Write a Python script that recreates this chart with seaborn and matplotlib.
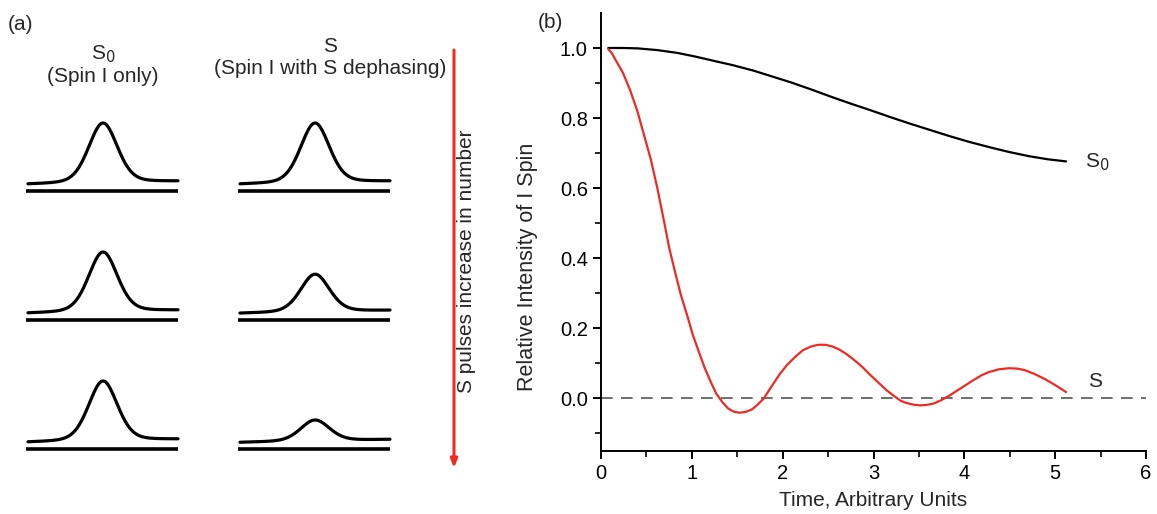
import numpy as np
import pandas as pd
import matplotlib
matplotlib.use("Agg")
import matplotlib.pyplot as plt
import seaborn as sns

sns.set_style("ticks")
plt.rcParams['font.family'] = ['Liberation Sans', 'DejaVu Sans']

# ---- panel (b) data ----
time_s0 = [0.08, 0.25, 0.40, 0.62, 0.84, 1.03, 1.23, 1.45, 1.67, 1.88, 2.10, 2.32,
           2.53, 2.75, 2.97, 3.18, 3.40, 3.62, 3.84, 4.05, 4.27, 4.49, 4.71, 4.92, 5.12]
intensity_s0 = [1.0, 1.0, 0.999, 0.994, 0.986, 0.976, 0.964, 0.951, 0.936, 0.919,
                0.901, 0.881, 0.861, 0.841, 0.822, 0.803, 0.784, 0.766, 0.748, 0.732,
                0.717, 0.703, 0.691, 0.682, 0.676]

time_s = [0.08, 0.12, 0.16, 0.24, 0.32, 0.40, 0.47, 0.55, 0.62, 0.69, 0.75, 0.82,
          0.88, 0.95, 1.01, 1.08, 1.14, 1.21, 1.27, 1.34, 1.40, 1.46, 1.52, 1.59,
          1.66, 1.72, 1.79, 1.88, 1.97, 2.05, 2.14, 2.22, 2.31, 2.39, 2.47, 2.55,
          2.62, 2.70, 2.79, 2.88, 2.96, 3.05, 3.14, 3.23, 3.30, 3.36, 3.44, 3.51,
          3.58, 3.66, 3.74, 3.83, 3.92, 4.01, 4.10, 4.19, 4.27, 4.38, 4.49, 4.58,
          4.66, 4.77, 4.88, 5.00, 5.12]
intensity_s = [0.997, 0.985, 0.966, 0.93, 0.88, 0.82, 0.755, 0.68, 0.60, 0.51, 0.43,
               0.355, 0.294, 0.235, 0.181, 0.13, 0.087, 0.045, 0.012, -0.013, -0.030,
               -0.039, -0.042, -0.040, -0.033, -0.020, -0.002, 0.034, 0.069, 0.095,
               0.118, 0.136, 0.147, 0.152, 0.152, 0.147, 0.139, 0.126, 0.108, 0.088,
               0.067, 0.045, 0.023, 0.005, -0.008, -0.014, -0.019, -0.021, -0.020,
               -0.016, -0.007, 0.006, 0.021, 0.036, 0.051, 0.065, 0.074, 0.082, 0.085,
               0.084, 0.080, 0.069, 0.055, 0.037, 0.017]

x_ticks = [0, 1, 2, 3, 4, 5, 6]
y_ticks = [0.0, 0.2, 0.4, 0.6, 0.8, 1.0]

# ---- panel (a) data: relative peak heights, rows = more S pulses ----
peak_height_s0 = [1.0, 1.0, 1.0]
peak_height_s = [1.0, 0.63, 0.35]

RED = "#ee2a24"

fig = plt.figure(figsize=(11.57, 5.14), dpi=100)

# ---------------- panel (a): schematic spectra, pixel-like coordinates ----------------
ax_a = fig.add_axes([0, 0, 500 / 1157, 1])
ax_a.set_xlim(0, 500)
ax_a.set_ylim(514, 0)
ax_a.axis("off")


def peak_shape(x, center, width):
    # pseudo-Voigt profile for the schematic peaks
    g = np.exp(-4 * np.log(2) * ((x - center) / width) ** 2)
    l = 1 / (1 + 4 * ((x - center) / width) ** 2)
    return 0.75 * g + 0.25 * l


col_centers = [103, 315]
row_base = [183, 312, 441]
full_height = 60
for center, heights in zip(col_centers, [peak_height_s0, peak_height_s]):
    for base, h in zip(row_base, heights):
        xs = np.linspace(center - 75, center + 75, 300)
        tilt = 1.5 - 3.0 * (xs - xs[0]) / (xs[-1] - xs[0])
        ys = base + tilt - full_height * h * peak_shape(xs, center, 34)
        ax_a.plot(xs, ys, color="black", lw=2.3, solid_capstyle="round")
        ax_a.plot([center - 77, center + 75], [base + 8, base + 8],
                  color="black", lw=2.6, solid_capstyle="butt")

ax_a.text(103, 54, "S$_0$", ha="center", va="center", fontsize=15)
ax_a.text(103, 76, "(Spin I only)", ha="center", va="center", fontsize=15)
ax_a.text(330, 47, "S", ha="center", va="center", fontsize=15)
ax_a.text(330, 69, "(Spin I with S dephasing)", ha="center", va="center", fontsize=15)
ax_a.text(8, 24, "(a)", ha="left", va="center", fontsize=15)

ax_a.annotate("", xy=(454, 468), xytext=(454, 50),
              arrowprops=dict(arrowstyle="-|>,head_length=0.5,head_width=0.2",
                              color=RED, lw=2.2, shrinkA=0, shrinkB=0))
ax_a.text(467, 261, "S pulses increase in number", rotation=90,
          ha="center", va="center", fontsize=15)

# ---------------- panel (b): intensity vs time ----------------
ax = fig.add_axes([601 / 1157, (514 - 450.5) / 514, 545 / 1157, 437.5 / 514])
df_s0 = pd.DataFrame({"t": time_s0, "I": intensity_s0})
df_s = pd.DataFrame({"t": time_s, "I": intensity_s})
sns.lineplot(data=df_s0, x="t", y="I", ax=ax, color="black", lw=1.6, sort=False)
sns.lineplot(data=df_s, x="t", y="I", ax=ax, color=RED, lw=1.6, sort=False)
for line in ax.lines:
    line.set_solid_joinstyle("round")
ax.axhline(0, color="#555555", lw=1.2, ls=(0, (7, 5)), zorder=0)

ax.set_xlim(0, 6)
ax.set_ylim(-0.15, 1.1)
ax.set_xticks(x_ticks)
ax.set_xticks(np.arange(0.5, 6, 1.0), minor=True)
ax.set_yticks(y_ticks)
ax.set_yticks([-0.1, 0.1, 0.3, 0.5, 0.7, 0.9], minor=True)
ax.set_xticklabels([str(v) for v in x_ticks])
ax.set_yticklabels([f"{v:.1f}" for v in y_ticks])
ax.tick_params(axis="both", which="major", direction="out", length=6, width=1.4,
               labelsize=14.5, colors="black")
ax.tick_params(axis="both", which="minor", direction="out", length=4, width=1.4)
sns.despine(ax=ax)
for side in ["left", "bottom"]:
    ax.spines[side].set_linewidth(1.4)
    ax.spines[side].set_color("black")

ax.set_xlabel("Time, Arbitrary Units", fontsize=15)
ax.set_ylabel("Relative Intensity of I Spin", fontsize=15.5)
ax.xaxis.set_label_coords(0.5, -0.093)
ax.yaxis.set_label_coords(-0.115, 0.42)

ax.text(5.33, 0.675, "S$_0$", ha="left", va="center", fontsize=15)
ax.text(5.36, 0.048, "S", ha="left", va="center", fontsize=15)
fig.text(538 / 1157, 1 - 22 / 514, "(b)", ha="left", va="center", fontsize=15)

fig.savefig("out.png", dpi=100)
